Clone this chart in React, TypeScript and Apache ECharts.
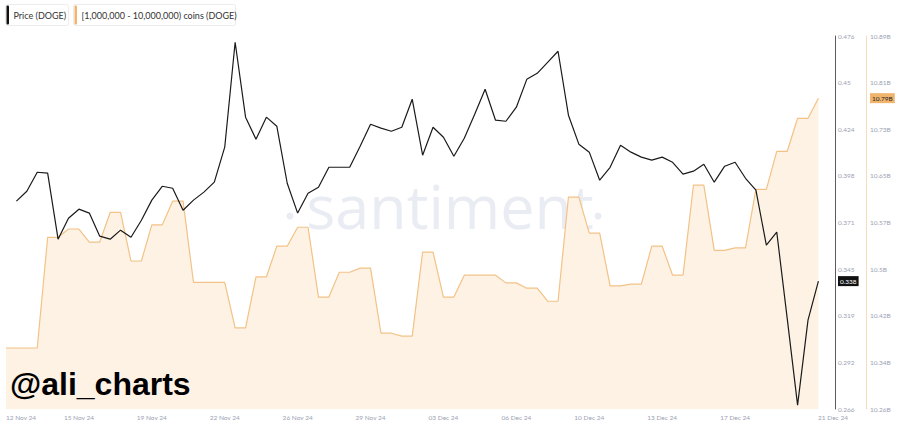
import React, { useEffect, useRef } from "react";
import * as echarts from "echarts";

// 12h steps from 12 Nov 24 00:00 (index 0) to 21 Dec 24 00:00 (index 78)
const priceValues: (number | null)[] = [
  null, 0.383, 0.3886, 0.3993, 0.3988, 0.3616, 0.3734, 0.3785, 0.3763, 0.3633,
  0.3616, 0.3667, 0.3627, 0.3723, 0.3836, 0.3914, 0.3903, 0.3779, 0.3836, 0.3881,
  0.3937, 0.4134, 0.4725, 0.4303, 0.4179, 0.4303, 0.4252, 0.3931, 0.3763, 0.3875,
  0.3909, 0.4021, 0.4021, 0.4021, 0.4139, 0.4263, 0.4241, 0.4224, 0.4246, 0.4404,
  0.4089, 0.4246, 0.419, 0.4083, 0.4184, 0.4319, 0.446, 0.4286, 0.428, 0.4359,
  0.4516, 0.455, 0.4612, 0.4674, 0.4314, 0.4151, 0.4106, 0.3948, 0.4021, 0.4145,
  0.4106, 0.4078, 0.4061, 0.4078, 0.4049, 0.3982, 0.3999, 0.4038, 0.3937, 0.4027,
  0.4049, 0.3959, 0.3892, 0.3582, 0.3656, 0.3172, 0.2682, 0.316, 0.338,
];

// supply held by [1M - 10M) DOGE wallets, billions
const holdingValues: number[] = [
  10.363, 10.363, 10.363, 10.363, 10.55, 10.55, 10.564, 10.564, 10.542, 10.542,
  10.592, 10.592, 10.51, 10.51, 10.571, 10.571, 10.611, 10.611, 10.474, 10.474,
  10.474, 10.474, 10.397, 10.397, 10.483, 10.483, 10.535, 10.535, 10.567, 10.567,
  10.449, 10.449, 10.491, 10.491, 10.498, 10.498, 10.388, 10.388, 10.383, 10.383,
  10.525, 10.525, 10.449, 10.449, 10.486, 10.486, 10.486, 10.486, 10.473, 10.473,
  10.464, 10.464, 10.442, 10.442, 10.618, 10.618, 10.557, 10.557, 10.468, 10.468,
  10.471, 10.471, 10.535, 10.535, 10.486, 10.486, 10.638, 10.638, 10.528, 10.528,
  10.532, 10.532, 10.631, 10.631, 10.695, 10.695, 10.751, 10.751, 10.785,
];

const xTickIdx = [0, 7, 14, 21, 28, 35, 42, 49, 56, 63, 70, 77, 79.4];
const xTickLabels = [
  "12 Nov 24", "15 Nov 24", "19 Nov 24", "22 Nov 24", "26 Nov 24", "29 Nov 24",
  "03 Dec 24", "06 Dec 24", "10 Dec 24", "13 Dec 24", "17 Dec 24", "20 Dec 24", "21 Dec 24",
];

const priceTicks = [0.266, 0.29225, 0.3185, 0.34475, 0.371, 0.39725, 0.4235, 0.44975, 0.476];
const priceTickLabels = ["0.266", "0.292", "0.319", "0.345", "0.371", "0.398", "0.424", "0.45", "0.476"];

const holdTicks = [10.26, 10.33875, 10.4175, 10.49625, 10.575, 10.65375, 10.7325, 10.81125, 10.89];
const holdTickLabels = ["10.26B", "10.34B", "10.42B", "10.5B", "10.57B", "10.65B", "10.73B", "10.81B", "10.89B"];

const seriesNames = ["Price (DOGE)", "[1,000,000 - 10,000,000) coins (DOGE)"];

const lookup = (ticks: number[], labels: string[], v: number) => {
  const k = ticks.findIndex((t) => Math.abs(t - v) < 1e-7);
  return k >= 0 ? labels[k] : "";
};

export default function App() {
  const ref = useRef<HTMLDivElement>(null);
  useEffect(() => {
    document.body.style.margin = "0";
    if (!ref.current) return;
    const chart = echarts.init(ref.current, undefined, { renderer: "svg" });
    const lastPrice = priceValues[priceValues.length - 1] as number;
    const lastHold = holdingValues[holdingValues.length - 1];
    const axisFont = "Lato";
    const labelColor = "#9ba2b3";
    const wm = "#e9ecf3";
    const pricePoints = priceValues
      .map((v, i) => [i, v] as [number, number | null])
      .filter((p) => p[1] !== null);
    chart.setOption({
      animation: false,
      backgroundColor: "#ffffff",
      grid: { left: 6, right: 67, top: 36, bottom: 16, outerBoundsMode: "none" },
      xAxis: {
        type: "value",
        min: 0,
        max: 79.4,
        axisLine: { show: false, onZero: false },
        axisTick: { show: false },
        splitLine: { show: false },
        axisLabel: {
          customValues: xTickIdx,
          formatter: (v: number) => lookup(xTickIdx, xTickLabels, v),
          alignMinLabel: "left",
          showMinLabel: true,
          showMaxLabel: true,
          color: labelColor,
          fontSize: 6.5,
          fontFamily: axisFont,
          margin: 5,
        },
      },
      yAxis: [
        {
          type: "value",
          position: "right",
          offset: 2,
          min: 0.266,
          max: 0.476,
          axisLine: { show: true, onZero: false, lineStyle: { color: "#5c5c5c", width: 1 } },
          axisTick: { show: false },
          splitLine: { show: false },
          axisLabel: {
            customValues: [...priceTicks, lastPrice].sort((a, b) => a - b),
            formatter: (v: number) =>
              Math.abs(v - lastPrice) < 1e-9 ? `{badge|${lastPrice.toFixed(3)}}` : lookup(priceTicks, priceTickLabels, v),
            color: labelColor,
            fontSize: 6.5,
            fontFamily: axisFont,
            margin: 3,
            rich: {
              badge: {
                backgroundColor: "#111111",
                color: "#ffffff",
                fontSize: 6.5,
                fontFamily: axisFont,
                padding: [2, 2, 1, 2],
              },
            },
          },
        },
        {
          type: "value",
          position: "right",
          offset: 33,
          min: 10.26,
          max: 10.89,
          axisLine: { show: true, onZero: false, lineStyle: { color: "#f6dcb8", width: 1 } },
          axisTick: { show: false },
          splitLine: { show: false },
          axisLabel: {
            customValues: [...holdTicks, lastHold].sort((a, b) => a - b),
            formatter: (v: number) =>
              Math.abs(v - lastHold) < 1e-9 ? `{badge|${lastHold.toFixed(2)}B}` : lookup(holdTicks, holdTickLabels, v),
            color: labelColor,
            fontSize: 6.5,
            fontFamily: axisFont,
            margin: 4,
            rich: {
              badge: {
                backgroundColor: "#f0b46c",
                color: "#222222",
                fontSize: 6.5,
                fontFamily: axisFont,
                padding: [2, 2, 1, 2],
              },
            },
          },
        },
      ],
      graphic: [
        {
          type: "text",
          left: "center",
          top: 175,
          z: 0,
          silent: true,
          style: {
            text: "santiment",
            fontFamily: "Open Sans",
            fontWeight: "normal",
            fontSize: 61,
            fill: wm,
          },
        },
        { type: "circle", shape: { cx: 290, cy: 216, r: 3.5 }, style: { fill: wm }, silent: true, z: 0 },
        { type: "circle", shape: { cx: 598, cy: 216, r: 3.5 }, style: { fill: wm }, silent: true, z: 0 },
        {
          type: "group",
          left: 5,
          top: 4,
          z: 100,
          children: [
            { type: "rect", shape: { x: 0, y: 0, width: 63, height: 21, r: 2 }, style: { fill: "#fff", stroke: "#ececec", lineWidth: 1 } },
            { type: "rect", shape: { x: 1, y: 1, width: 2.5, height: 19, r: 1 }, style: { fill: "#111" } },
            { type: "text", x: 8, y: 10.5, style: { text: seriesNames[0], fontFamily: "Lato", fontSize: 9, fill: "#333", verticalAlign: "middle" } },
            { type: "rect", shape: { x: 68, y: 0, width: 162, height: 21, r: 2 }, style: { fill: "#fff", stroke: "#ececec", lineWidth: 1 } },
            { type: "rect", shape: { x: 69, y: 1, width: 2.5, height: 19, r: 1 }, style: { fill: "#f0b46c" } },
            { type: "text", x: 76, y: 10.5, style: { text: seriesNames[1], fontFamily: "Lato", fontSize: 9, fill: "#333", verticalAlign: "middle" } },
          ],
        },
        {
          type: "text",
          left: 10,
          top: 368,
          z: 100,
          style: {
            text: "@ali_charts",
            fontFamily: "Liberation Sans",
            fontWeight: "bold",
            fontSize: 32,
            fill: "#000",
          },
        },
      ],
      series: [
        {
          name: seriesNames[1],
          type: "line",
          yAxisIndex: 1,
          data: holdingValues.map((v, i) => [i, v]),
          symbol: "none",
          z: 1,
          lineStyle: { color: "#f2c286", width: 1.2 },
          areaStyle: { color: "#fdf2e4", opacity: 1, origin: "start" },
        },
        {
          name: seriesNames[0],
          type: "line",
          yAxisIndex: 0,
          data: pricePoints,
          symbol: "none",
          z: 3,
          lineStyle: { color: "#1a1a1a", width: 1.2 },
        },
      ],
    });
    return () => chart.dispose();
  }, []);
  return <div ref={ref} style={{ width: 900, height: 425 }} />;
}
